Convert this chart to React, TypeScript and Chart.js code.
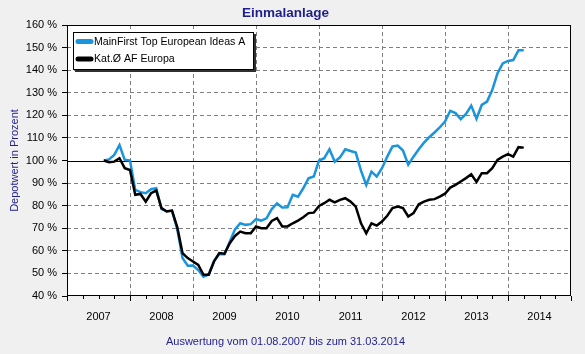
import React, { useEffect, useRef } from 'react';
import { Chart, registerables } from 'chart.js';

Chart.register(...registerables);

// ---- data ----
const titleText = 'Einmalanlage';
const footerText = 'Auswertung vom 01.08.2007 bis zum 31.03.2014';
const yAxisTitle = 'Depotwert in Prozent';
const fundName = 'MainFirst Top European Ideas A';
const categoryName = 'Kat.\u00D8 AF Europa';

// months counted from Jan 2007; first point = 01.08.2007, then month ends up to 31.03.2014
const startMonth = 7;
const yearLabels = ['2007', '2008', '2009', '2010', '2011', '2012', '2013', '2014'];

const fundValues = [
  100, 100.5, 102.5, 106.8, 100.3, 100, 87, 86, 85.5, 87.3,
  87.7, 78.5, 77.5, 77.8, 69.5, 56.8, 53.4, 53.5, 51.5, 48.5,
  49.5, 55.5, 58.5, 58.5, 64, 69.5, 72.2, 71.5, 71.8, 74,
  73.4, 74.4, 78.5, 81, 79.2, 79.3, 84.8, 84, 87.7, 92.1,
  92.9, 100, 101, 105, 99.5, 101.4, 105, 104.2, 103.5, 95.5,
  89.2, 95.1, 92.9, 96.6, 101.7, 106.2, 106.6, 104.4, 98.1, 101.7,
  105, 107.9, 110.3, 112.4, 114.7, 117.2, 122, 121, 118.3, 120.6,
  124.3, 118.5, 124.6, 126.1, 131.2, 138.6, 143, 144.1, 144.5, 148.8,
  148.8,
];

const categoryValues = [
  100, 99.2, 99.5, 101, 96.6, 95.8, 84.8, 85.2, 81.8, 85.5,
  86.7, 78.9, 77.4, 77.8, 70.5, 59, 56.8, 55.3, 53.8, 49.4,
  49.4, 55.3, 59, 58.7, 63.4, 66.6, 68.5, 67.8, 67.8, 70.8,
  70, 70, 73.2, 74.5, 70.8, 70.8, 72.2, 73.4, 74.9, 76.7,
  76.9, 79.9, 81.1, 82.6, 81.5, 82.6, 83.3, 81.8, 79.6, 72.2,
  67.8, 72.2, 71.2, 73, 75.5, 78.9, 79.6, 78.9, 75.2, 76.7,
  80.6, 81.8, 82.6, 82.9, 84, 85.3, 88, 89.2, 90.7, 92.2,
  93.9, 90.5, 94.4, 94.4, 96.6, 100.3, 101.7, 102.8, 101.7, 105.9,
  105.7,
];

const yMin = 40;
const yMax = 160;
const yStep = 10;
const referenceLevel = 100;

// ---- styles ----
const FONT = '"Liberation Sans", Arial, sans-serif';
const NAVY = '#1e1e8c';
const BLUE = '#1a94dc';
const BG = '#f0f0f0';

const W = 585;
const H = 354;

export default function App() {
  const ref = useRef<HTMLCanvasElement>(null);

  useEffect(() => {
    document.body.style.margin = '0';
    document.body.style.background = BG;
    const canvas = ref.current;
    if (!canvas) return;

    const xMax = yearLabels.length * 12;

    const bgPlugin = {
      id: 'bgPlugin',
      beforeDraw(chart: any) {
        const { ctx, chartArea: a } = chart;
        ctx.save();
        ctx.fillStyle = BG;
        ctx.fillRect(0, 0, chart.width, chart.height);
        ctx.fillStyle = '#ffffff';
        ctx.fillRect(a.left, a.top, a.right - a.left, a.bottom - a.top);
        ctx.restore();
      },
      beforeDatasetsDraw(chart: any) {
        const { ctx, chartArea: a, scales } = chart;
        const y = Math.round(scales.y.getPixelForValue(referenceLevel)) + 0.5;
        ctx.save();
        ctx.strokeStyle = '#000';
        ctx.lineWidth = 1;
        ctx.beginPath();
        ctx.moveTo(a.left, y);
        ctx.lineTo(a.right, y);
        ctx.stroke();
        ctx.restore();
      },
      afterDraw(chart: any) {
        const { ctx, chartArea: a, scales } = chart;
        ctx.save();
        // frame
        ctx.strokeStyle = '#000';
        ctx.lineWidth = 1;
        ctx.strokeRect(Math.round(a.left) + 0.5, Math.round(a.top) + 0.5, Math.round(a.right - a.left) - 1, Math.round(a.bottom - a.top) - 1);
        // x tick marks (quarterly minor, yearly major)
        const xs = scales.x;
        for (let v = 0; v <= xMax; v += 3) {
          const px = Math.round(xs.getPixelForValue(v)) + 0.5;
          const len = v % 12 === 0 ? 5 : 3;
          ctx.beginPath();
          ctx.moveTo(px, a.bottom);
          ctx.lineTo(px, a.bottom + len);
          ctx.stroke();
        }
        // legend
        const lx = a.left + 6;
        const ly = a.top + 7;
        const lw = 181;
        const lh = 38;
        ctx.fillStyle = '#303030';
        ctx.fillRect(lx + 2, ly + 2, lw, lh);
        ctx.fillStyle = '#ffffff';
        ctx.fillRect(lx, ly, lw, lh);
        ctx.strokeRect(lx + 0.5, ly + 0.5, lw - 1, lh - 1);
        ctx.font = `10.6px ${FONT}`;
        ctx.textBaseline = 'middle';
        ctx.textAlign = 'left';
        chart.data.datasets.forEach((ds: any, k: number) => {
          const cy = ly + 9.5 + k * 17.5;
          ctx.strokeStyle = ds.borderColor;
          ctx.lineWidth = 5;
          ctx.lineCap = 'round';
          ctx.beginPath();
          ctx.moveTo(lx + 5, cy);
          ctx.lineTo(lx + 18, cy);
          ctx.stroke();
          ctx.fillStyle = '#000';
          ctx.fillText(ds.label, lx + 21, cy + 0.5);
        });
        ctx.restore();
      },
    };

    const toPoints = (vals: number[]) => vals.map((v, i) => ({ x: startMonth + i, y: v }));

    const chart = new Chart(canvas, {
      type: 'line',
      data: {
        datasets: [
          {
            label: fundName,
            data: toPoints(fundValues),
            borderColor: BLUE,
            backgroundColor: BLUE,
            borderWidth: 2.5,
            pointRadius: 0,
            tension: 0,
            order: 1,
          },
          {
            label: categoryName,
            data: toPoints(categoryValues),
            borderColor: '#000000',
            backgroundColor: '#000000',
            borderWidth: 2.5,
            pointRadius: 0,
            tension: 0,
            order: 0,
          },
        ],
      },
      options: {
        responsive: false,
        animation: false,
        devicePixelRatio: 1,
        layout: { padding: { left: 0, right: 14, top: 0, bottom: 0 } },
        plugins: {
          legend: { display: false },
          tooltip: { enabled: false },
          title: {
            display: true,
            text: titleText,
            color: NAVY,
            font: { family: FONT, size: 13.5, weight: 'bold' },
            padding: { top: 5, bottom: 3.8 },
          },
          subtitle: {
            display: true,
            position: 'bottom',
            text: footerText,
            color: NAVY,
            font: { family: FONT, size: 11, weight: 'normal' },
            padding: { top: 4, bottom: 5 },
          },
        },
        scales: {
          x: {
            type: 'linear',
            min: 0,
            max: xMax,
            afterFit: (s: any) => {
              s.height = H - 296 - 22.2;
            },
            border: { display: false, dash: [4, 3] },
            grid: {
              drawTicks: false,
              lineWidth: 1,
              color: (c: any) => {
                const v = c.tick ? c.tick.value : -1;
                return v % 12 === 0 && v > 0 && v < xMax ? '#808080' : 'rgba(0,0,0,0)';
              },
            },
            ticks: {
              stepSize: 3,
              autoSkip: false,
              maxRotation: 0,
              minRotation: 0,
              padding: 14,
              color: '#000',
              font: { family: FONT, size: 11 },
              callback: (v: any) => {
                const n = Number(v);
                return n % 12 === 6 ? yearLabels[(n - 6) / 12] : '';
              },
            },
          },
          y: {
            min: yMin,
            max: yMax,
            afterFit: (s: any) => {
              s.width = 67;
            },
            border: { display: false, dash: [4, 3] },
            grid: {
              lineWidth: 1,
              color: (c: any) => {
                const v = c.tick ? c.tick.value : -1;
                return v === referenceLevel || v === yMin || v === yMax ? 'rgba(0,0,0,0)' : '#808080';
              },
              tickColor: '#000',
              tickLength: 5,
              tickBorderDash: [],
            },
            ticks: {
              stepSize: yStep,
              padding: 5,
              color: '#000',
              font: { family: FONT, size: 11 },
              callback: (v: any) => `${v} %`,
            },
            title: {
              display: true,
              text: yAxisTitle,
              color: NAVY,
              font: { family: FONT, size: 11 },
              padding: { top: 8, bottom: 0 },
            },
          },
        },
      },
      plugins: [bgPlugin],
    } as any);

    return () => chart.destroy();
  }, []);

  return (
    <div style={{ width: W, height: H, background: BG }}>
      <canvas ref={ref} width={W} height={H} style={{ display: 'block' }} />
    </div>
  );
}
